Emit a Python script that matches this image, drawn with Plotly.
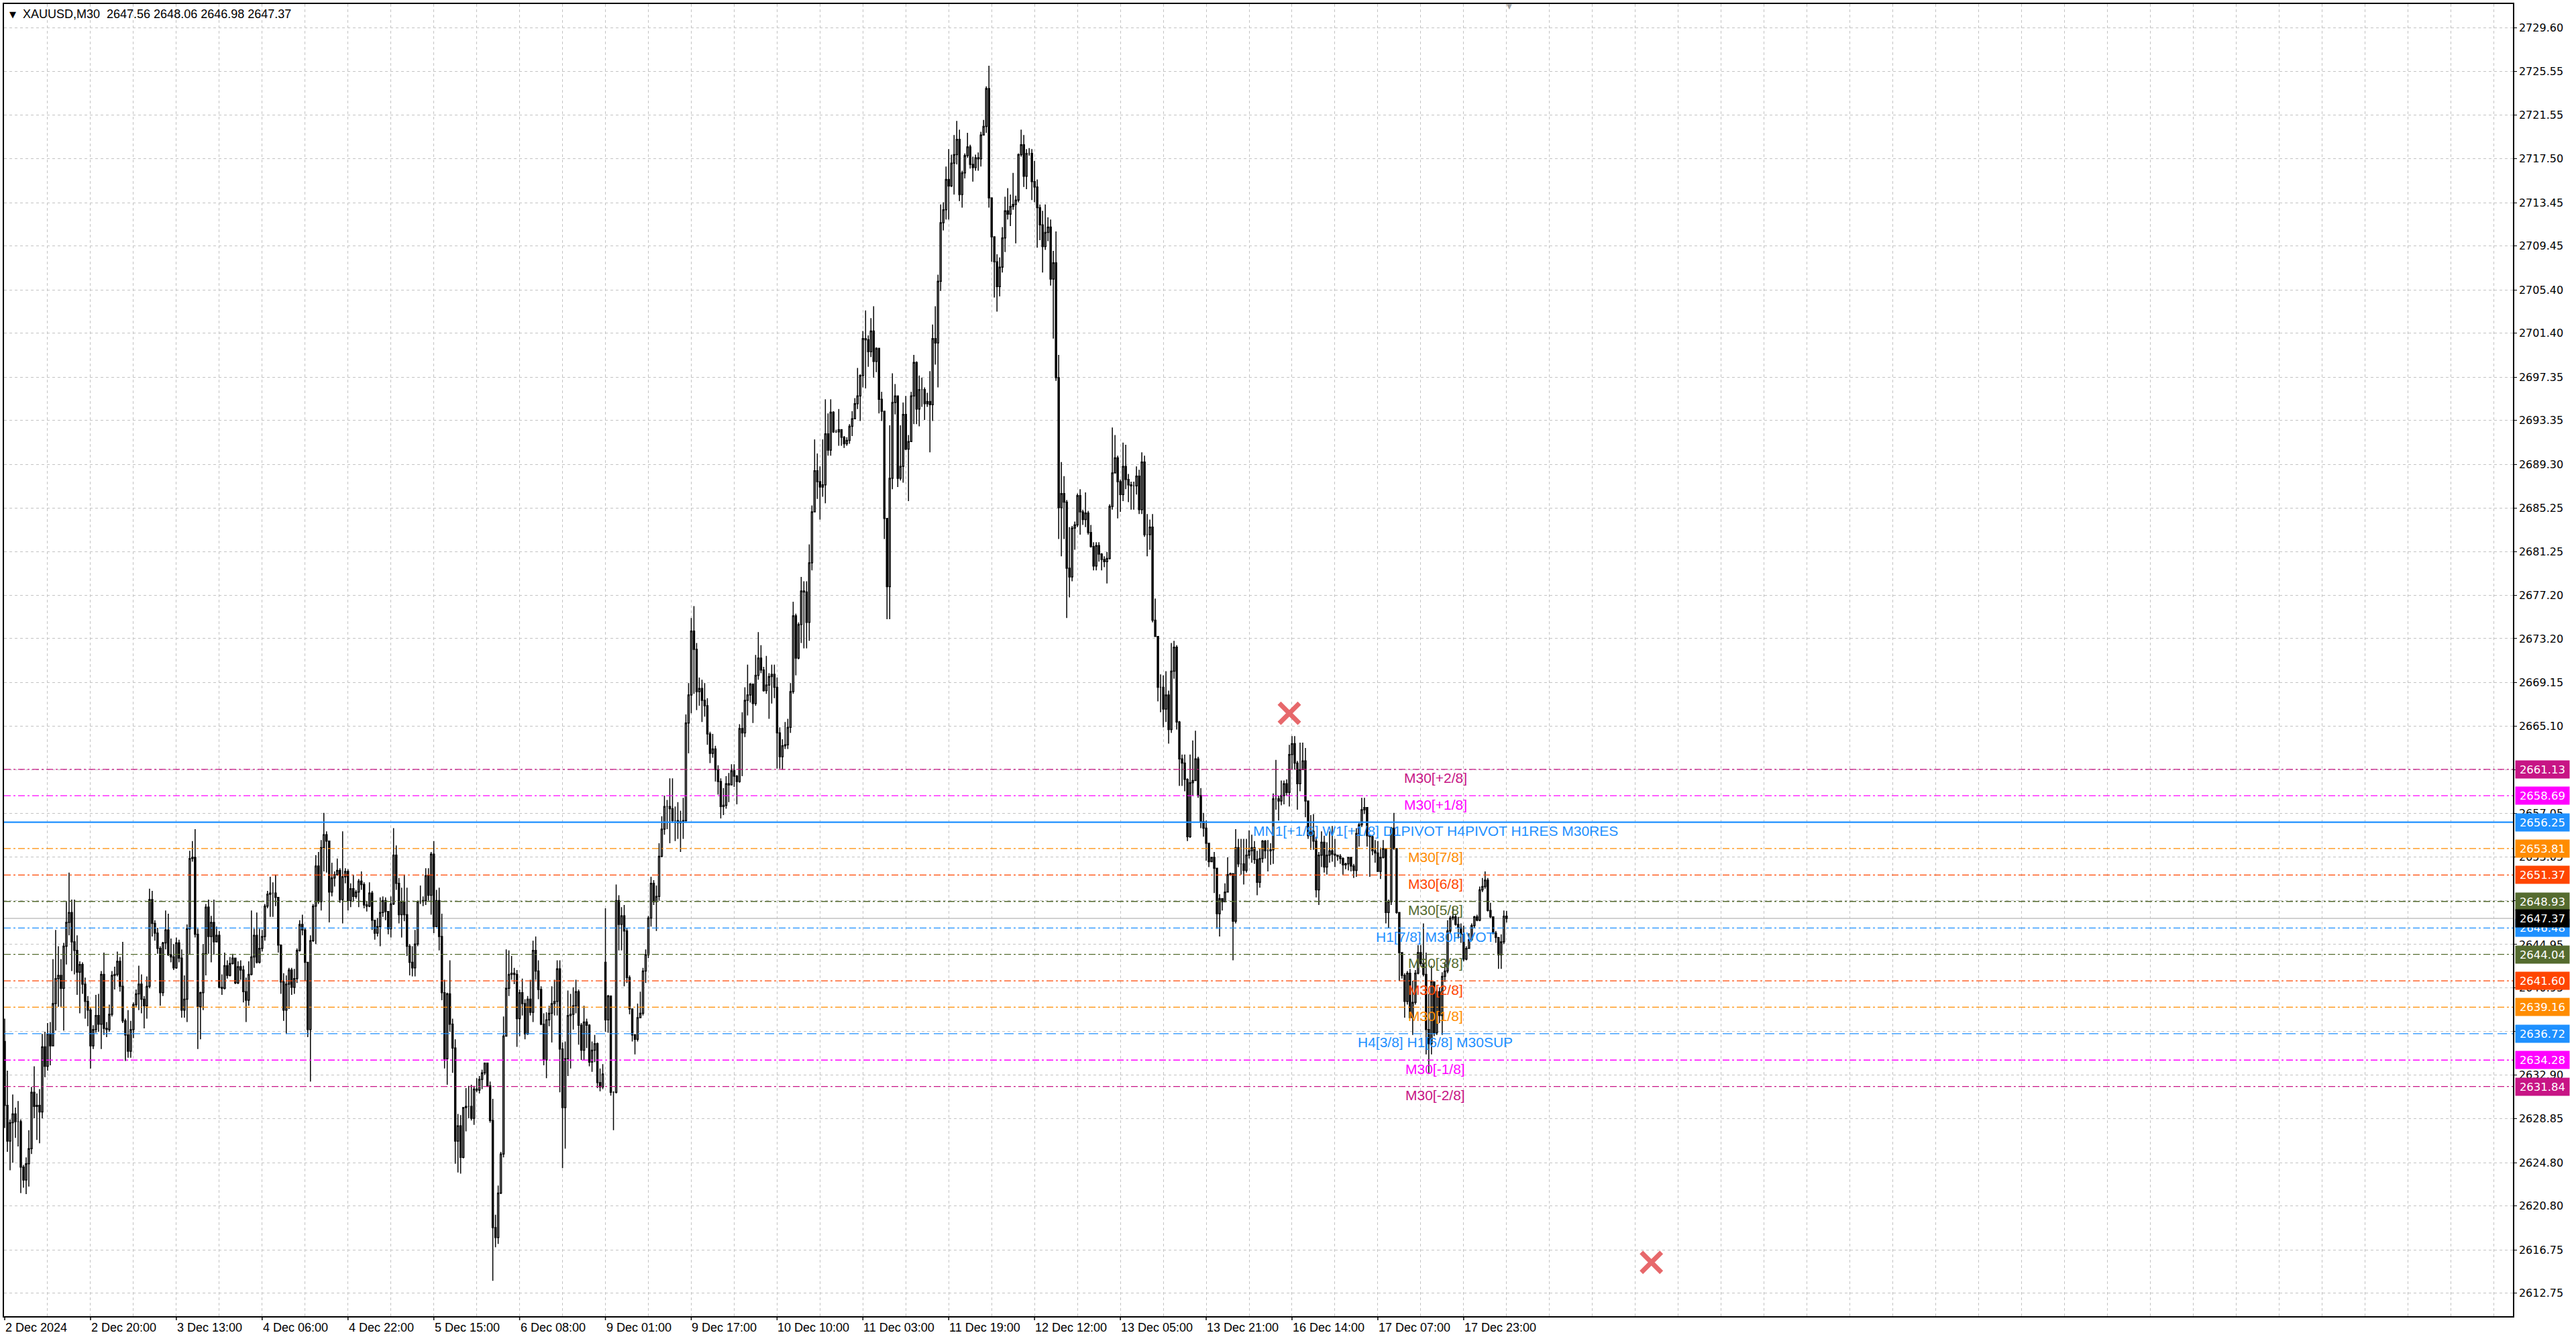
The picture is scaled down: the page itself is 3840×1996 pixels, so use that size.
import plotly.graph_objects as go

# ---------------- data ----------------
SYMBOL = "XAUUSD,M30"

FIRST_OPEN = 2636.0
GAP_OPENS = {224: 2643.3}

CLOSES = [
2630.1,2626.8,2628.5,2629.3,2628.6,2628.6,2624.4,2623.2,2624.7,2626.1,
2631.3,2630.0,2630.1,2629.5,2635.5,2633.7,2636.7,2635.6,2639.5,2641.8,
2642.1,2640.9,2644.8,2647.0,2647.9,2645.2,2644.4,2642.4,2643.1,2641.3,
2639.7,2638.9,2635.6,2637.1,2638.4,2637.6,2642.2,2637.2,2637.1,2638.5,
2642.1,2642.2,2643.4,2641.1,2637.9,2636.6,2635.1,2637.1,2639.4,2640.4,
2641.3,2639.9,2639.3,2641.1,2649.1,2646.9,2646.0,2644.6,2640.5,2645.1,
2646.3,2644.0,2643.8,2642.8,2645.1,2643.7,2638.9,2639.9,2646.4,2652.9,
2653.0,2645.9,2639.2,2640.5,2644.1,2648.4,2645.7,2647.0,2645.2,2645.8,
2641.0,2640.9,2643.0,2642.1,2643.2,2643.7,2641.4,2642.9,2642.6,2640.6,
2639.8,2642.2,2643.8,2645.8,2643.3,2644.6,2645.7,2648.5,2649.6,2649.7,
2649.7,2649.3,2644.9,2641.5,2638.9,2641.3,2642.6,2641.0,2641.8,2644.4,
2646.8,2646.3,2643.3,2637.1,2645.3,2648.5,2652.2,2648.9,2653.9,2655.1,
2654.5,2649.8,2651.1,2651.4,2651.8,2649.1,2651.2,2651.7,2649.0,2650.1,
2649.4,2649.8,2650.8,2650.5,2648.6,2648.5,2649.7,2647.2,2646.0,2646.6,
2647.9,2649.0,2648.0,2646.4,2648.7,2653.2,2650.6,2647.7,2648.9,2647.7,
2644.8,2643.3,2642.8,2645.0,2648.9,2648.9,2649.0,2651.3,2649.5,2653.3,
2646.6,2649.0,2645.7,2640.5,2634.4,2640.4,2637.6,2635.4,2626.8,2628.2,
2625.3,2629.9,2630.0,2630.0,2628.9,2631.6,2631.5,2632.5,2633.1,2634.0,
2631.9,2628.7,2618.8,2617.9,2622.0,2625.6,2636.5,2640.9,2642.2,2642.3,
2642.2,2638.1,2640.5,2639.5,2636.7,2639.9,2638.7,2644.4,2642.5,2640.8,
2637.6,2634.3,2638.0,2638.6,2639.5,2639.7,2642.7,2635.3,2629.9,2634.4,
2638.4,2638.5,2639.3,2640.6,2637.5,2635.2,2637.8,2637.5,2634.1,2635.2,
2635.8,2632.2,2631.8,2633.0,2638.0,2640.2,2631.3,2631.3,2649.0,2646.8,
2647.6,2646.2,2641.9,2639.0,2636.6,2636.2,2638.2,2638.6,2642.5,2644.0,
2647.4,2650.6,2648.9,2649.4,2653.1,2655.6,2657.7,2657.7,2657.5,2656.4,
2656.4,2656.2,2656.3,2656.4,2665.4,2668.0,2673.9,2672.2,2668.3,2668.6,
2667.5,2667.0,2664.4,2662.6,2663.0,2661.1,2660.0,2657.7,2657.8,2659.8,
2659.7,2661.0,2660.5,2660.0,2664.9,2664.5,2667.5,2668.0,2669.0,2667.2,
2669.8,2671.4,2670.3,2668.4,2668.9,2669.7,2669.9,2668.7,2664.5,2662.3,
2663.3,2663.4,2665.0,2668.3,2675.3,2671.4,2674.5,2677.6,2677.5,2674.7,
2680.2,2684.9,2688.7,2687.7,2687.2,2687.4,2692.1,2690.6,2694.1,2692.3,
2692.3,2692.5,2691.8,2691.2,2691.5,2692.8,2693.5,2694.9,2695.6,2697.5,
2700.9,2700.8,2699.7,2701.6,2698.8,2700.0,2695.3,2694.2,2684.3,2678.0,
2688.0,2695.0,2695.6,2688.0,2689.1,2693.9,2690.7,2691.4,2695.6,2698.7,
2694.4,2696.2,2696.2,2694.9,2695.1,2694.8,2700.9,2700.5,2706.2,2711.6,
2712.8,2715.6,2715.0,2717.1,2717.9,2719.3,2714.2,2716.2,2717.8,2718.6,
2717.0,2716.7,2717.6,2717.5,2719.7,2720.5,2724.0,2713.9,2710.3,2708.0,
2705.7,2707.5,2710.2,2712.7,2712.4,2713.1,2713.3,2713.7,2717.9,2718.8,
2715.9,2718.0,2718.0,2715.4,2714.9,2713.0,2711.4,2709.4,2710.7,2711.2,
2706.4,2707.9,2697.3,2685.3,2686.6,2685.8,2679.7,2678.9,2683.4,2683.7,
2686.4,2684.9,2684.2,2684.8,2683.0,2681.7,2679.9,2681.8,2681.0,2680.5,
2680.3,2680.6,2685.4,2688.5,2689.9,2687.7,2686.5,2689.1,2687.9,2687.4,
2687.3,2687.3,2688.2,2685.1,2689.5,2682.8,2682.8,2683.5,2674.9,2673.4,
2668.7,2668.7,2666.7,2668.0,2664.8,2670.2,2672.4,2665.5,2662.1,2661.7,
2660.2,2654.9,2659.9,2660.1,2662.1,2658.7,2656.3,2655.7,2654.3,2652.6,
2653.0,2652.0,2647.8,2649.2,2648.9,2649.8,2651.4,2651.5,2647.1,2653.9,
2652.4,2652.4,2651.8,2653.2,2653.6,2653.9,2652.8,2650.7,2652.9,2654.5,
2653.6,2653.6,2653.7,2658.4,2658.4,2658.2,2658.7,2659.8,2659.0,2662.5,
2663.5,2661.7,2659.8,2661.1,2661.9,2658.2,2655.0,2655.4,2654.5,2650.0,
2653.2,2654.4,2652.1,2653.2,2653.6,2653.3,2653.2,2653.1,2652.9,2652.3,
2652.4,2653.0,2652.2,2651.8,2655.2,2656.0,2657.4,2657.6,2655.0,2654.9,
2653.6,2653.4,2651.7,2653.0,2653.8,2647.9,2648.9,2655.7,2653.8,2647.9,
2644.2,2642.1,2639.7,2642.3,2638.2,2639.6,2642.3,2644.2,2643.2,2642.2,
2637.1,2635.8,2641.5,2636.8,2640.6,2638.4,2642.0,2642.5,2646.2,2647.4,
2647.5,2646.8,2646.5,2645.9,2643.6,2644.6,2645.4,2646.7,2647.5,2647.2,
2650.0,2650.3,2650.9,2648.1,2647.5,2646.0,2645.6,2644.0,2645.2,2647.56,
2647.37]

HIGHS = [
2638.1,2633.3,2628.8,2631.1,2629.9,2630.5,2628.8,2624.6,2625.3,2627.8,
2631.8,2633.7,2631.2,2631.6,2636.7,2636.9,2637.7,2637.8,2643.6,2646.3,
2644.8,2643.6,2645.1,2648.9,2651.6,2649.1,2649.1,2645.8,2643.4,2643.3,
2641.9,2640.2,2639.1,2637.5,2640.3,2640.4,2642.5,2644.2,2637.8,2639.4,
2642.5,2642.9,2644.3,2643.8,2645.2,2638.1,2638.9,2637.9,2639.6,2640.8,
2643.0,2642.2,2640.2,2642.0,2650.1,2649.9,2647.2,2646.5,2644.8,2645.2,
2648.1,2647.8,2645.5,2645.0,2645.6,2645.4,2644.5,2642.1,2646.8,2653.6,
2654.5,2655.6,2646.4,2640.6,2645.0,2648.7,2649.1,2647.6,2649.1,2646.6,
2646.2,2642.2,2644.2,2643.5,2643.8,2644.1,2643.0,2643.4,2643.5,2643.0,
2641.9,2643.4,2648.1,2646.4,2647.9,2646.4,2646.3,2648.7,2649.9,2651.2,
2650.7,2651.4,2649.3,2644.9,2642.3,2642.1,2642.8,2642.8,2642.7,2644.6,
2647.2,2647.7,2646.5,2643.3,2645.8,2648.7,2653.2,2653.5,2654.6,2657.1,
2655.4,2654.5,2652.5,2651.7,2652.9,2652.0,2655.4,2652.0,2651.9,2650.6,
2651.4,2650.0,2651.0,2651.7,2650.7,2648.9,2650.7,2649.9,2647.2,2647.4,
2649.3,2649.4,2649.3,2648.0,2649.4,2655.7,2654.1,2651.1,2650.2,2651.4,
2650.2,2645.0,2644.8,2646.3,2649.0,2650.4,2649.4,2652.0,2652.0,2653.5,
2654.5,2650.0,2650.2,2647.8,2641.7,2640.5,2643.5,2638.1,2636.2,2629.3,
2629.2,2629.9,2631.7,2631.9,2632.0,2631.9,2632.6,2632.8,2633.4,2634.0,
2634.0,2632.3,2630.7,2620.0,2622.7,2625.8,2638.3,2644.5,2644.4,2643.9,
2642.8,2642.6,2640.8,2641.8,2639.9,2640.2,2641.7,2645.3,2645.7,2643.5,
2641.1,2638.6,2638.7,2639.3,2641.1,2641.7,2643.5,2643.5,2635.9,2636.0,
2640.7,2640.4,2641.0,2641.7,2640.8,2637.7,2639.3,2638.1,2637.6,2636.0,
2636.6,2635.9,2633.5,2633.9,2648.3,2640.3,2640.2,2631.4,2650.5,2649.5,
2648.4,2648.6,2646.5,2642.1,2639.0,2636.7,2639.5,2640.6,2642.8,2644.5,
2647.6,2651.2,2650.9,2650.4,2654.3,2656.8,2658.7,2658.3,2660.3,2660.3,
2657.7,2658.1,2657.3,2658.5,2666.2,2669.1,2675.1,2676.2,2672.8,2669.6,
2669.4,2669.1,2667.7,2664.6,2664.4,2663.3,2661.5,2660.3,2659.4,2660.5,
2660.8,2661.6,2661.6,2660.6,2665.3,2666.4,2668.7,2670.8,2669.1,2669.0,
2671.7,2673.8,2672.6,2670.6,2671.6,2670.0,2670.8,2670.8,2669.6,2665.0,
2663.9,2665.5,2665.8,2669.1,2676.6,2675.5,2674.7,2678.9,2678.5,2678.5,
2681.9,2685.5,2691.6,2690.3,2689.1,2691.6,2695.3,2694.0,2695.3,2694.2,
2692.5,2694.4,2692.5,2691.9,2691.8,2693.0,2694.2,2695.4,2698.2,2697.6,
2701.6,2703.5,2701.2,2702.8,2703.9,2700.1,2699.8,2696.0,2693.9,2684.3,
2692.9,2697.7,2696.7,2695.4,2692.9,2695.0,2695.6,2692.0,2696.0,2699.4,
2698.8,2697.5,2697.3,2696.4,2695.9,2697.9,2702.2,2703.9,2706.8,2713.3,
2713.5,2716.8,2718.4,2717.9,2719.7,2721.0,2720.2,2716.4,2718.0,2719.9,
2718.8,2717.7,2717.9,2718.1,2720.0,2721.1,2724.2,2726.1,2713.4,2710.3,
2708.7,2708.4,2711.2,2714.0,2714.8,2714.2,2716.2,2714.1,2718.0,2720.2,
2719.7,2718.4,2718.5,2718.4,2717.3,2715.6,2713.3,2712.7,2713.3,2712.1,
2711.9,2709.0,2710.8,2699.4,2689.5,2688.2,2686.0,2683.5,2683.6,2684.0,
2686.6,2687.0,2685.1,2686.7,2685.0,2683.7,2682.1,2682.1,2682.1,2681.1,
2680.8,2681.2,2685.6,2692.7,2692.0,2690.1,2687.9,2691.3,2691.1,2688.4,
2687.7,2687.7,2689.1,2688.8,2690.4,2690.1,2684.7,2684.2,2684.7,2676.9,
2673.4,2669.9,2669.8,2670.2,2668.4,2672.8,2673.0,2672.6,2665.6,2662.5,
2662.5,2660.3,2662.5,2663.8,2664.7,2662.3,2659.4,2657.1,2656.4,2654.3,
2653.0,2653.5,2652.0,2649.6,2649.2,2650.6,2653.0,2651.6,2651.4,2655.6,
2654.7,2654.7,2654.7,2654.7,2655.5,2655.1,2654.5,2653.6,2653.8,2654.6,
2654.6,2654.6,2654.3,2658.9,2662.0,2658.7,2660.1,2660.1,2660.2,2663.4,
2664.2,2664.2,2661.9,2663.6,2663.6,2663.1,2658.0,2656.9,2657.0,2654.9,
2653.5,2655.4,2655.0,2654.4,2655.4,2655.9,2654.7,2653.2,2653.3,2653.0,
2652.5,2653.0,2652.9,2652.4,2655.7,2656.2,2658.5,2658.5,2657.6,2655.1,
2655.0,2654.6,2654.5,2653.9,2654.6,2653.8,2649.1,2655.8,2657.1,2653.7,
2647.9,2644.1,2642.3,2642.5,2642.7,2641.6,2642.6,2644.9,2644.9,2646.9,
2644.2,2640.4,2643.0,2641.5,2640.8,2641.0,2642.4,2643.3,2647.2,2647.6,
2648.4,2647.8,2647.5,2646.9,2646.7,2644.8,2646.0,2646.9,2647.6,2647.7,
2650.3,2651.1,2651.7,2651.1,2648.8,2647.5,2646.2,2645.5,2645.9,2648.1,
2648.06]

LOWS = [
2628.0,2625.8,2624.1,2624.8,2627.1,2626.3,2622.0,2622.5,2621.9,2622.6,
2625.6,2628.9,2626.9,2626.6,2628.9,2632.7,2633.3,2633.8,2635.6,2637.0,
2639.2,2639.2,2637.0,2643.1,2645.8,2642.5,2642.2,2640.3,2638.6,2640.4,
2638.1,2637.4,2633.5,2635.3,2636.8,2636.9,2635.3,2636.6,2636.4,2636.9,
2638.3,2640.8,2642.0,2640.6,2637.7,2634.2,2634.5,2634.5,2636.3,2639.2,
2638.9,2638.6,2637.2,2638.1,2640.9,2645.7,2645.3,2644.1,2639.3,2640.2,
2644.5,2643.9,2643.3,2642.6,2642.7,2643.3,2638.2,2638.2,2637.8,2644.0,
2652.6,2645.6,2635.3,2636.2,2638.9,2642.1,2644.1,2643.3,2644.0,2645.2,
2640.9,2640.3,2640.8,2641.8,2642.0,2643.1,2641.3,2641.3,2641.7,2639.6,
2637.8,2639.3,2642.1,2642.8,2643.2,2643.2,2644.3,2645.3,2648.3,2647.5,
2647.5,2648.5,2644.2,2640.4,2637.9,2636.7,2639.0,2640.3,2640.4,2641.4,
2644.3,2645.8,2641.6,2636.4,2632.3,2645.2,2645.0,2648.7,2648.1,2651.7,
2651.6,2647.0,2649.4,2650.3,2651.3,2648.8,2646.9,2650.6,2648.1,2648.4,
2648.9,2649.2,2648.4,2650.0,2648.3,2648.0,2648.4,2646.3,2645.4,2645.7,
2644.8,2647.5,2647.2,2645.9,2645.6,2648.6,2650.0,2646.9,2645.6,2647.1,
2643.9,2642.1,2642.0,2642.0,2644.8,2648.7,2648.5,2648.6,2649.0,2647.7,
2646.0,2646.8,2644.4,2639.8,2633.5,2632.0,2636.9,2633.1,2624.7,2623.9,
2623.8,2625.2,2627.7,2628.9,2628.7,2628.3,2631.3,2631.2,2631.6,2632.9,
2631.8,2628.5,2613.9,2617.0,2617.3,2621.9,2625.3,2636.5,2640.2,2641.7,
2641.3,2635.5,2636.5,2638.4,2636.2,2636.6,2638.4,2637.8,2641.7,2639.9,
2637.5,2633.8,2632.6,2637.4,2635.9,2638.4,2638.4,2631.3,2624.3,2626.1,
2632.8,2633.5,2637.1,2638.6,2635.7,2634.3,2634.3,2635.4,2633.7,2633.2,
2634.1,2631.7,2631.4,2631.6,2636.9,2636.8,2631.0,2627.8,2631.2,2644.4,
2644.4,2641.1,2641.4,2638.5,2636.0,2634.8,2636.0,2638.3,2638.4,2641.4,
2643.7,2646.6,2648.6,2646.2,2649.0,2653.0,2655.1,2655.6,2654.3,2656.2,
2654.5,2654.7,2653.5,2654.7,2656.2,2662.6,2666.3,2668.1,2666.6,2667.0,
2665.5,2666.0,2663.4,2661.7,2662.2,2660.0,2658.8,2656.6,2656.9,2657.5,
2658.1,2660.6,2659.5,2657.9,2659.9,2660.5,2664.1,2666.1,2667.3,2665.4,
2667.0,2669.4,2670.0,2668.3,2668.1,2665.8,2667.2,2667.7,2661.2,2661.2,
2661.1,2663.0,2663.0,2664.5,2668.1,2669.8,2671.3,2672.8,2672.3,2672.3,
2673.0,2679.5,2684.9,2686.1,2684.2,2686.3,2685.7,2690.1,2690.1,2692.2,
2692.2,2691.0,2691.0,2690.8,2691.0,2691.2,2691.9,2694.4,2694.4,2693.3,
2696.4,2696.3,2698.3,2699.2,2697.3,2697.8,2694.0,2693.3,2682.4,2675.0,
2675.0,2687.0,2693.9,2687.2,2687.8,2687.6,2690.6,2685.9,2691.4,2693.0,
2693.0,2692.8,2694.6,2693.4,2694.6,2690.4,2693.3,2698.5,2696.4,2705.3,
2710.9,2711.9,2711.9,2714.9,2714.2,2717.0,2713.6,2713.0,2715.7,2717.6,
2716.6,2715.4,2716.4,2716.4,2716.8,2719.7,2719.9,2713.0,2708.0,2704.7,
2703.4,2704.8,2707.0,2708.9,2711.9,2711.3,2712.8,2709.7,2713.5,2717.7,
2714.9,2714.7,2717.8,2713.7,2713.5,2709.3,2710.0,2707.0,2709.1,2709.9,
2705.8,2700.9,2697.0,2682.4,2680.8,2682.4,2675.1,2677.0,2678.5,2681.4,
2683.5,2682.8,2683.7,2683.5,2682.8,2681.6,2679.5,2679.5,2680.3,2679.5,
2679.8,2678.3,2680.5,2685.1,2688.6,2684.3,2684.9,2685.9,2687.0,2685.8,
2685.1,2685.1,2686.5,2684.7,2684.7,2682.6,2680.8,2681.4,2674.7,2673.4,
2667.4,2666.4,2665.0,2665.5,2663.5,2664.5,2669.5,2664.8,2659.6,2659.6,
2659.1,2654.5,2654.8,2658.7,2660.1,2658.5,2655.7,2654.9,2652.7,2652.1,
2652.6,2649.7,2646.4,2645.7,2648.1,2648.9,2649.8,2651.3,2643.5,2646.9,
2652.1,2651.4,2650.5,2651.6,2652.9,2652.5,2652.4,2649.5,2650.2,2652.5,
2652.9,2651.7,2652.3,2652.4,2657.4,2656.4,2657.8,2657.9,2658.7,2657.7,
2661.1,2661.1,2657.4,2659.1,2661.1,2656.7,2654.7,2653.7,2653.7,2649.3,
2648.6,2652.1,2651.6,2651.4,2652.5,2652.6,2652.1,2652.7,2652.4,2651.4,
2651.9,2651.8,2651.7,2651.1,2651.2,2654.0,2655.8,2657.0,2654.0,2651.2,
2653.2,2652.5,2651.7,2651.0,2652.9,2646.9,2646.5,2648.6,2653.7,2647.8,
2641.6,2641.8,2638.2,2639.4,2638.2,2636.6,2639.4,2642.2,2643.0,2642.0,
2634.8,2633.0,2634.8,2636.5,2636.6,2637.7,2636.6,2641.5,2642.3,2646.0,
2647.2,2646.7,2645.5,2645.1,2643.4,2643.5,2644.6,2645.3,2646.5,2647.1,
2647.1,2649.8,2650.1,2648.0,2647.4,2645.9,2645.1,2642.7,2642.7,2645.0,
2646.98]

X_LABELS = ["2 Dec 2024", "2 Dec 20:00", "3 Dec 13:00", "4 Dec 06:00", "4 Dec 22:00",
            "5 Dec 15:00", "6 Dec 08:00", "9 Dec 01:00", "9 Dec 17:00", "10 Dec 10:00",
            "11 Dec 03:00", "11 Dec 19:00", "12 Dec 12:00", "13 Dec 05:00", "13 Dec 21:00",
            "16 Dec 14:00", "17 Dec 07:00", "17 Dec 23:00"]
X_LABEL_BARS = [0, 32, 64, 96, 128, 160, 192, 224, 256, 288, 320, 352, 384, 416, 448, 480, 512, 544]

Y_TICKS = [2729.60, 2725.55, 2721.55, 2717.50, 2713.45, 2709.45, 2705.40, 2701.40, 2697.35,
           2693.35, 2689.30, 2685.25, 2681.25, 2677.20, 2673.20, 2669.15, 2665.10, 2661.10,
           2657.05, 2653.05, 2649.00, 2644.95, 2640.95, 2636.90, 2632.90, 2628.85, 2624.80,
           2620.80, 2616.75, 2612.75]

LEVEL_PRICES = [2661.13, 2658.69, 2656.25, 2653.81, 2651.37, 2648.93, 2646.48,
                2644.04, 2641.60, 2639.16, 2636.72, 2634.28, 2631.84]
LEVEL_NAMES = ["M30[+2/8]", "M30[+1/8]", "MN1[+1/8] W1[+1/8] D1PIVOT H4PIVOT H1RES M30RES",
               "M30[7/8]", "M30[6/8]", "M30[5/8]", "H1[7/8] M30PIVOT", "M30[3/8]",
               "M30[2/8]", "M30[1/8]", "H4[3/8] H1[6/8] M30SUP", "M30[-1/8]", "M30[-2/8]"]
LEVEL_COLORS = ["#C71585", "#FF00FF", "#1E90FF", "#FF8C00", "#FF4500", "#556B2F", "#1E90FF",
                "#556B2F", "#FF4500", "#FF8C00", "#1E90FF", "#FF00FF", "#C71585"]
LEVEL_STYLES = ["dashdot", "dashdot", "solid", "dashdot", "dashdot", "dashdot", "dashdot",
                "dashdot", "dashdot", "dashdot", "longdash", "dashdot", "dashdot"]

X_MARK_BARS = [479, 614]
X_MARK_PRICES = [2666.3, 2615.6]

# ---------------- layout constants ----------------
W, H = 3840, 1996
ML, MR, MT, MB = 4, 94, 4, 34
X_RANGE = [-0.25, 935.25]
Y_RANGE = [2610.63, 2731.80]
LABEL_BAR = 533.5
GRID_COLOR = "#C3C3C3"

n = min(len(CLOSES), len(HIGHS), len(LOWS))
closes = CLOSES[:n]
opens = [FIRST_OPEN] + closes[:-1]
for k, v in GAP_OPENS.items():
    opens[k] = v
highs = [max(h, o, c) for h, o, c in zip(HIGHS[:n], opens, closes)]
lows = [min(l, o, c) for l, o, c in zip(LOWS[:n], opens, closes)]
bars = list(range(n))

fig = go.Figure()

fig.add_trace(go.Candlestick(
    x=bars, open=opens, high=highs, low=lows, close=closes,
    increasing=dict(fillcolor="#FFFFFF", line=dict(color="#000000", width=1.5)),
    decreasing=dict(fillcolor="#000000", line=dict(color="#000000", width=1.5)),
    whiskerwidth=0, hoverinfo="skip", showlegend=False,
))

dash_map = {"dashdot": "10px,4px,3px,4px", "longdash": "14px,7px", "solid": "solid"}

shapes = []
# current price line
shapes.append(dict(type="line", xref="paper", x0=0, x1=1, yref="y",
                   y0=closes[-1], y1=closes[-1], layer="below",
                   line=dict(color="#C0C0C0", width=1.5)))
for p, c, s in zip(LEVEL_PRICES, LEVEL_COLORS, LEVEL_STYLES):
    shapes.append(dict(type="line", xref="paper", x0=0, x1=1, yref="y", y0=p, y1=p,
                       layer="above",
                       line=dict(color=c, width=2.2 if s == "solid" else 1.3, dash=dash_map[s])))
# x-axis tick marks
for b in X_LABEL_BARS:
    shapes.append(dict(type="line", xref="x", x0=b, x1=b, yref="paper",
                       y0=0, y1=-6.0 / (H - MT - MB), line=dict(color="#000000", width=1.5)))

annotations = []
for p, name, c in zip(LEVEL_PRICES, LEVEL_NAMES, LEVEL_COLORS):
    annotations.append(dict(x=LABEL_BAR, y=p, xref="x", yref="y", text=name, showarrow=False,
                            xanchor="center", yanchor="middle", yshift=-13,
                            font=dict(family="Liberation Sans, Arial", size=21, color=c)))
# right axis price boxes
for p, c in zip(LEVEL_PRICES, LEVEL_COLORS):
    annotations.append(dict(x=1, y=p, xref="paper", yref="y", text=f"{p:.2f}", showarrow=False,
                            xanchor="left", yanchor="middle", xshift=3,
                            bgcolor=c, width=74, height=20, borderpad=3, align="center",
                            font=dict(family="DejaVu Sans", size=16.5, color="#FFFFFF")))
annotations.append(dict(x=1, y=closes[-1], xref="paper", yref="y", text=f"{closes[-1]:.2f}",
                        showarrow=False, xanchor="left", yanchor="middle", xshift=3,
                        bgcolor="#000000", width=74, height=20, borderpad=3, align="center",
                        font=dict(family="DejaVu Sans", size=16.5, color="#FFFFFF")))
# x labels (left aligned at tick)
for b, t in zip(X_LABEL_BARS, X_LABELS):
    annotations.append(dict(x=b, y=0, xref="x", yref="paper", text=t, showarrow=False,
                            xanchor="left", yanchor="top", xshift=-1, yshift=-5,
                            font=dict(family="Liberation Sans, Arial", size=18, color="#000000")))
# header
header = (f"{SYMBOL}&nbsp;&nbsp;{opens[-1]:.2f} {highs[-1]:.2f} {lows[-1]:.2f} {closes[-1]:.2f}")
annotations.append(dict(x=0, y=1, xref="paper", yref="paper", text="▼", showarrow=False,
                        xanchor="left", yanchor="top", xshift=6, yshift=-6,
                        font=dict(family="DejaVu Sans", size=13, color="#000000")))
annotations.append(dict(x=0, y=1, xref="paper", yref="paper", text=header, showarrow=False,
                        xanchor="left", yanchor="top", xshift=26, yshift=-3,
                        font=dict(family="Liberation Sans, Arial", size=18, color="#000000")))
# chart shift marker
annotations.append(dict(x=n, y=1, xref="x", yref="paper", text="▼", showarrow=False,
                        xanchor="center", yanchor="top", yshift=4,
                        font=dict(family="DejaVu Sans", size=10, color="#A0A0A0")))

fig.add_trace(go.Scatter(
    x=X_MARK_BARS, y=X_MARK_PRICES, mode="markers", hoverinfo="skip", showlegend=False,
    marker=dict(symbol="x-thin", size=30, color="#E5585C", opacity=0.9,
                line=dict(width=7, color="#E5585C")),
))

fig.update_layout(
    width=W, height=H,
    margin=dict(l=ML, r=MR, t=MT, b=MB),
    paper_bgcolor="#FFFFFF", plot_bgcolor="#FFFFFF",
    showlegend=False,
    shapes=shapes, annotations=annotations,
    xaxis=dict(range=X_RANGE, rangeslider=dict(visible=False),
               tickmode="linear", tick0=0, dtick=16, showticklabels=False, ticks="",
               showgrid=True, gridcolor=GRID_COLOR, griddash="4px,4px", gridwidth=1,
               zeroline=False, showline=True, linecolor="#000000", linewidth=1.5, mirror=True),
    yaxis=dict(range=Y_RANGE, side="right", tickmode="array", tickvals=Y_TICKS,
               ticktext=[f"{v:.2f}" for v in Y_TICKS],
               ticks="outside", ticklen=4, tickcolor="#000000",
               tickfont=dict(family="DejaVu Sans", size=16, color="#000000"),
               showgrid=True, gridcolor=GRID_COLOR, griddash="4px,4px", gridwidth=1,
               zeroline=False, showline=True, linecolor="#000000", linewidth=1.5, mirror=True),
)

fig.write_html("out.html", config={"displayModeBar": False},
               post_script="document.body.style.margin='0';document.body.style.overflow='hidden';")
